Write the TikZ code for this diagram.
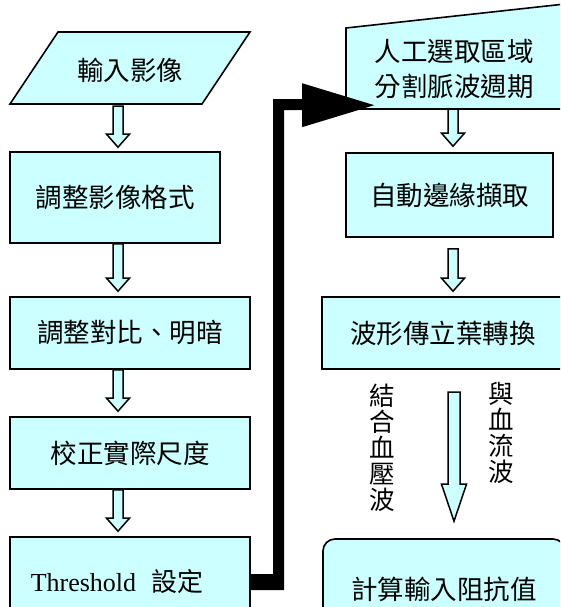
\documentclass[tikz,border=0pt]{standalone}
\usepackage{fontspec}
\setmainfont{Liberation Serif}
\newfontfamily\cjk{Noto Sans CJK TC}
\usetikzlibrary{calc}
\definecolor{boxfill}{RGB}{204,255,255}
\tikzset{
  boxline/.style={draw=black, line width=1.6pt, fill=boxfill},
  stepbox/.style={boxline, rectangle, inner sep=0pt, font=\cjk\fontsize{26.5}{35}\selectfont},
  txt/.style={inner sep=0pt, font=\cjk\fontsize{26.5}{35}\selectfont, align=center},
  vtxt/.style={inner sep=0pt, font=\cjk\fontsize{25.5}{26}\selectfont, align=center},
  barrowstyle/.style={draw=black, line width=1.5pt, fill=boxfill, line join=miter}
}
% #1 x, #2 from point, #3 tip point, #4 shaft half width, #5 head half width, #6 head length
\newcommand\barrow[6]{%
  \draw[barrowstyle] let \p1=(#2), \p2=(#3) in
    (#1pt-#4pt,\y1) -- (#1pt-#4pt,\y2+#6pt) -- (#1pt-#5pt,\y2+#6pt) -- (#1pt,\y2)
    -- (#1pt+#5pt,\y2+#6pt) -- (#1pt+#4pt,\y2+#6pt) -- (#1pt+#4pt,\y1) -- cycle;}
\begin{document}
\begin{tikzpicture}[x=1pt,y=-1pt]
\useasboundingbox (0,0) rectangle (560,607);
\clip (0,0) rectangle (560,607);
\fill[white] (0,0) rectangle (560,607);

% left column
\draw[boxline] (58,32) -- (250,32) -- (202,104) -- (10,104) -- cycle;
\node[txt, minimum height=72pt] (in) at (130,70) {輸入影像};
\node[stepbox, minimum width=210pt, minimum height=91pt] (b2) at (115,197.5) {調整影像格式};
\node[stepbox, minimum width=240pt, minimum height=72pt] (b3) at (130,333) {調整對比、明暗};
\node[stepbox, minimum width=240pt, minimum height=72pt] (b4) at (130,453) {校正實際尺度};
\node[boxline, rectangle, inner sep=0pt, minimum width=240pt, minimum height=90pt] (th) at (130,582)
  {\fontsize{26}{30}\selectfont Threshold\hspace{15pt}{\cjk 設定}\kern26pt};

% right column
\draw[boxline] (346,28) -- (565,4) -- (565,109) -- (346,109) -- cycle;
\node[txt, minimum height=80pt] (sel) at (454,69) {人工選取區域\\分割脈波週期};
\node[stepbox, minimum width=207pt, minimum height=84pt] (auto) at (449.5,195) {自動邊緣擷取};
\node[stepbox, minimum width=242pt, minimum height=72pt] (fft) at (443,333) {波形傳立葉轉換};
\node[stepbox, rounded corners=12pt, minimum width=242pt, minimum height=100pt] (calc) at (444,589) {計算輸入阻抗值};

% block arrows
\barrow{118}{in.south}{[yshift=4pt]b2.north}{5}{11.5}{13}
\barrow{118}{b2.south}{[yshift=5pt]b3.north}{5}{11.5}{13}
\barrow{118}{b3.south}{[yshift=5pt]b4.north}{5}{11.5}{13}
\barrow{118}{b4.south}{[yshift=5pt]th.north}{5}{11.5}{13}
\barrow{453}{sel.south}{[yshift=6pt]auto.north}{5}{11.5}{13}
\barrow{453}{[yshift=-11pt]auto.south}{[yshift=5pt]fft.north}{5}{11.5}{13}
\coordinate (lstart) at (454,392);
\barrow{454}{lstart}{[yshift=17pt]calc.north}{6}{12.5}{37}

% vertical labels
\node[vtxt] (l1) at (382,448) {結\\合\\血\\壓\\波};
\node[vtxt] (l2) at (501,433) {與\\血\\流\\波};

% thick black connector
\fill[black] let \p1=(th.east), \p2=([yshift=4pt]sel.south west) in
  (\x1,\y1+8pt) -- (273pt,\y1+8pt) -- (273pt,\y2+6pt) -- (302pt,\y2+6pt)
  -- (302pt,\y2+22pt) -- (\x2,\y2) -- (302pt,\y2-22pt) -- (302pt,\y2-5pt)
  -- (284pt,\y2-5pt) -- (284pt,\y1-8pt) -- (\x1,\y1-8pt) -- cycle;
\end{tikzpicture}
\end{document}
